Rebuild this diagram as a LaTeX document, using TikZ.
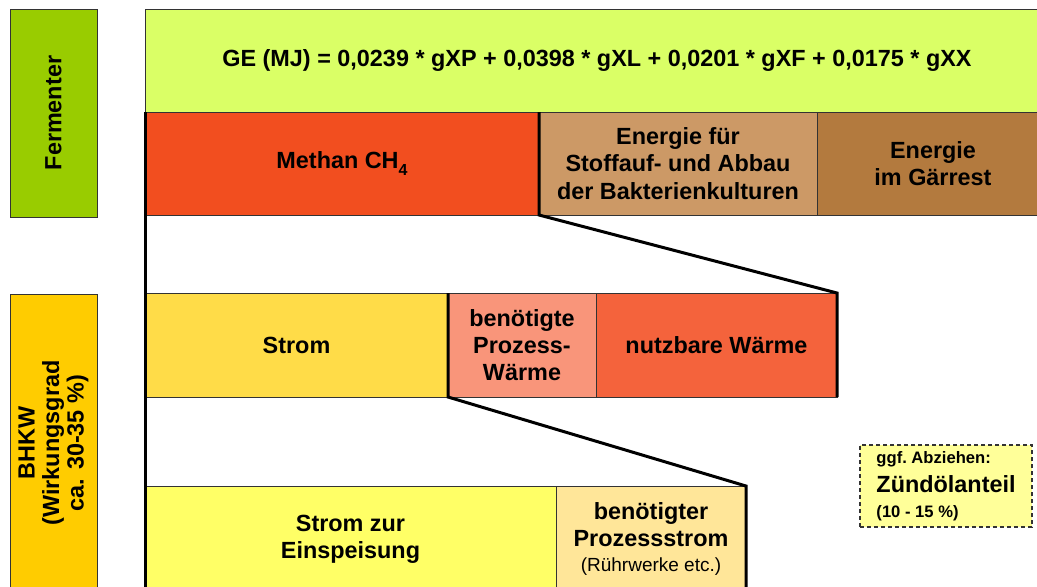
\documentclass[tikz,border=0pt]{standalone}
\usepackage{fontspec}
\setmainfont{Liberation Sans}

\definecolor{fermgreen}{HTML}{99CC00}
\definecolor{gelime}{HTML}{DAFF66}
\definecolor{methanred}{HTML}{F24E1F}
\definecolor{abbaubrown}{HTML}{CC9966}
\definecolor{restbrown}{HTML}{B37A3E}
\definecolor{bhkwyellow}{HTML}{FFCC00}
\definecolor{stromyellow}{HTML}{FFDC48}
\definecolor{prozsalmon}{HTML}{F9957A}
\definecolor{nutzorange}{HTML}{F4633C}
\definecolor{einspyellow}{HTML}{FFFF66}
\definecolor{pstromcream}{HTML}{FFE699}
\definecolor{zuendyellow}{HTML}{FFFF99}

\begin{document}
\begin{tikzpicture}[
    x=0.5pt, y=-0.5pt,
    every node/.style={font=\fontsize{11.7}{13.6}\selectfont\bfseries},
    blk/.style={draw=black!80, line width=0.5pt, inner sep=0pt, outer sep=0pt, align=center},
    row1/.style={blk, minimum height=51.5pt},
    row2/.style={blk, minimum height=52pt},
    row3/.style={blk, minimum height=53pt},
    sidebox/.style={blk, rotate=90, minimum height=43.5pt},
    thickline/.style={black, line width=1.5pt, line join=miter},
]
\useasboundingbox (0,0) rectangle (1037,586);

% left column
\node[sidebox, fill=fermgreen, minimum width=104pt] (ferm) at (53.5,113) {Fermenter};
\node[sidebox, fill=bhkwyellow, minimum width=149pt, font=\fontsize{11.7}{12.2}\selectfont\bfseries] (bhkw) at (53.5,443) {BHKW\\(Wirkungsgrad\\ca. 30-35 \%)};

% Fermenter rows
\node[blk, fill=gelime, minimum width=452pt, minimum height=51.5pt] (ge) at (597,60.5) {GE (MJ) = 0,0239 * gXP + 0,0398 * gXL + 0,0201 * gXF + 0,0175 * gXX};
\node[row1, fill=methanred, minimum width=197pt] (methan) at (342,163.5) {Methan CH\raisebox{-0.55ex}{\fontsize{8}{8}\selectfont 4}};
\node[row1, fill=abbaubrown, minimum width=139pt] (abbau) at (678,163.5) {Energie f\"ur\\Stoffauf- und Abbau\\der Bakterienkulturen};
\node[row1, fill=restbrown, minimum width=116pt] (rest) at (933,163.5) {Energie\\im G\"arrest};

% BHKW rows
\node[row2, fill=stromyellow, minimum width=151.5pt] (strom) at (296.5,345) {Strom};
\node[row2, fill=prozsalmon, minimum width=74pt] (prozw) at (522,345) {ben\"otigte\\Prozess-\\W\"arme};
\node[row2, fill=nutzorange, minimum width=120.5pt] (nutz) at (716.5,345) {nutzbare W\"arme};

\node[row3, fill=einspyellow, minimum width=205.5pt] (einsp) at (350.5,539) {Strom zur\\Einspeisung};
\node[row3, fill=pstromcream, minimum width=95pt] (pstrom) at (651,539) {ben\"otigter\\Prozessstrom\\[-1pt]{\fontsize{9.5}{11}\selectfont\mdseries (R\"uhrwerke etc.)}};

% note on ignition oil
\node[blk, fill=zuendyellow, dashed, dash pattern=on 2pt off 1.5pt, line width=0.6pt,
      minimum width=86pt, minimum height=41pt, align=left] (zuend) at (946,486)
      {{\fontsize{8.3}{10}\selectfont ggf.\ Abziehen:}\\[1pt]
       Z\"und\"olanteil\\[-1pt]
       {\fontsize{8.3}{10}\selectfont (10 - 15 \%)}};

% thick split lines
\draw[thickline] (methan.north west) -- (einsp.south west);
\draw[thickline] (methan.north east) -- (methan.south east) -- (nutz.north east) -- (nutz.south east);
\draw[thickline] (strom.north east) -- (strom.south east) -- (pstrom.north east) -- (pstrom.south east);
\end{tikzpicture}
\end{document}
